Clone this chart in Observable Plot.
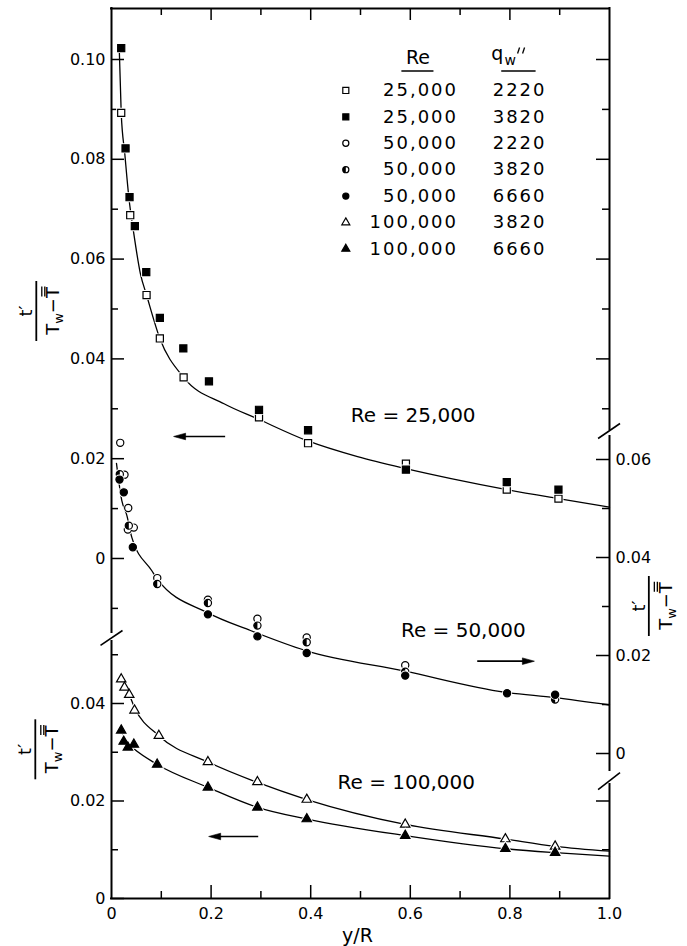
<!DOCTYPE html>
<html><head><meta charset="utf-8">
<script src="https://cdn.jsdelivr.net/npm/d3@7"></script>
<script src="https://cdn.jsdelivr.net/npm/@observablehq/plot@0.6"></script>
<style>
body{margin:0;background:#fff;}
#chart{position:relative;width:687px;height:946px;background:#fff;}
#chart svg{position:absolute;left:0;top:0;}
</style></head><body><div id="chart"></div>
<script>
// ---------------- data ----------------
// Re = 25,000  (left, upper scale)
const re25q2220X = [0.0195,0.0376,0.0704,0.0971,0.1448,0.2962,0.3947,0.5912,0.7937,0.8975];
const re25q2220Y = [0.0893,0.0688,0.0528,0.0441,0.0363,0.0283,0.0231,0.0190,0.0138,0.0120];
const re25q3820X = [0.0195,0.0282,0.0362,0.0469,0.0698,0.0971,0.1442,0.1957,0.2962,0.3947,0.5912,0.7937,0.8975];
const re25q3820Y = [0.1023,0.0822,0.0724,0.0666,0.0574,0.0482,0.0421,0.0355,0.0298,0.0257,0.0178,0.0153,0.0138];
const re25CurveX = [0.0155,0.0195,0.0267,0.0348,0.0448,0.058,0.0704,0.0971,0.1448,0.226,0.293,0.393,0.494,0.591,0.682,0.7937,0.8975,1.0];
const re25CurveY = [0.1024,0.0893,0.0811,0.0724,0.0651,0.0571,0.0528,0.0441,0.0363,0.0310,0.0280,0.0236,0.0204,0.0180,0.0160,0.0138,0.0120,0.0103];
// Re = 50,000  (right scale)
const re50q2220X = [0.0175,0.0261,0.0336,0.0328,0.0448,0.0919,0.1936,0.293,0.392,0.5898];
const re50q2220Y = [0.0634,0.0569,0.0501,0.0457,0.0461,0.0358,0.0314,0.0275,0.0237,0.0180];
const re50q3820X = [0.0167,0.0235,0.0348,0.0919,0.1936,0.293,0.392,0.5898,0.8908];
const re50q3820Y = [0.0570,0.0534,0.0465,0.0346,0.0307,0.0261,0.0227,0.0167,0.0110];
const re50q6660X = [0.0161,0.0247,0.0428,0.1936,0.293,0.392,0.5898,0.7943,0.8908];
const re50q6660Y = [0.0559,0.0533,0.0421,0.0284,0.0239,0.0205,0.0159,0.0123,0.0120];
const re50CurveX = [0.010,0.0207,0.0308,0.0408,0.081,0.0919,0.1936,0.279,0.39,0.589,0.79,0.89,1.0];
const re50CurveY = [0.0592,0.0516,0.0486,0.0441,0.0373,0.0356,0.0287,0.0251,0.0210,0.0168,0.0125,0.0114,0.0099];
// Re = 100,000 (left, lower scale)
const re100q3820X = [0.0195,0.0261,0.0356,0.0462,0.0951,0.1936,0.293,0.3921,0.5898,0.7909,0.8908];
const re100q3820Y = [0.0450,0.0433,0.0418,0.0386,0.0334,0.0280,0.0239,0.0203,0.0152,0.0122,0.0107];
const re100q6660X = [0.0195,0.0245,0.0329,0.0449,0.0917,0.1936,0.293,0.3921,0.5898,0.7909,0.8908];
const re100q6660Y = [0.0345,0.0322,0.0310,0.0316,0.0275,0.0228,0.0187,0.0163,0.0129,0.0102,0.0094];
const re100q3820CurveX = [0.0195,0.0356,0.0462,0.0951,0.1936,0.293,0.3921,0.5898,0.7909,0.8908,1.0];
const re100q3820CurveY = [0.0452,0.0418,0.0392,0.0334,0.0280,0.0238,0.0203,0.0152,0.0122,0.0107,0.0097];
const re100q6660CurveX = [0.0195,0.0329,0.0449,0.0917,0.1936,0.293,0.3921,0.5898,0.7909,0.8908,1.0];
const re100q6660CurveY = [0.0345,0.0318,0.0307,0.0275,0.0228,0.0187,0.0163,0.0129,0.0102,0.0094,0.0087];
// legend
const legendRe = ["25,000","25,000","50,000","50,000","50,000","100,000","100,000"];
const legendQ  = ["2220","3820","2220","3820","6660","3820","6660"];
// tick labels
const xTickLabels = [0,0.2,0.4,0.6,0.8,1.0];
const upperLeftLabels = [0,0.02,0.04,0.06,0.08,0.10];
const lowerLeftLabels = [0,0.02,0.04];
const rightLabels = [0,0.02,0.04,0.06];
const upperLeftTicks = [-0.01,0,0.01,0.02,0.03,0.04,0.05,0.06,0.07,0.08,0.09,0.10];
const upperRightTicks = [0.03,0.04,0.05,0.06,0.07,0.08,0.09,0.10];
const midRightTicks = [0,0.01,0.02,0.03,0.04,0.05,0.06];
const lowerLeftTicks = [0,0.01,0.02,0.03,0.04,0.05];
const lowerRightTicks = [0.01,0.02];
const xMinorMajorTicks = [0.1,0.2,0.3,0.4,0.5,0.6,0.7,0.8,0.9];

// ---------------- layout ----------------
const W = 687, H = 946;
const M = {top: 8, bottom: 48, left: 111, right: 78};
const FONT = '"DejaVu Sans", sans-serif';
const innerW = W - M.left - M.right, innerH = H - M.top - M.bottom;
const domA = [-0.06814, 0.11022];   // upper-left scale
const domB = [-0.02959, 0.15204];   // right scale
const domC = [0, 0.18256];          // lower-left scale
const xpp = 1 / innerW;
const ypp = d => (d[1] - d[0]) / innerH;

const pts = (xs, ys) => xs.map((x, i) => ({x, y: ys[i]}));
const halfLeft = {draw(ctx, size) {const r = Math.sqrt(size / Math.PI); ctx.moveTo(0, -r); ctx.arc(0, 0, r, -Math.PI / 2, Math.PI / 2, true); ctx.closePath();}};
const arrowHead = dir => ({draw(ctx) {ctx.moveTo(0, 0); ctx.lineTo(-12 * dir, -3.3); ctx.lineTo(-12 * dir, 3.3); ctx.closePath();}});
const styles = [
  {sym: "square", fill: "white", r: 4},
  {sym: "square", fill: "black", r: 4},
  {sym: "circle", fill: "white", r: 3.6},
  {sym: "circle", fill: "white", r: 3.6, half: true},
  {sym: "circle", fill: "black", r: 3.6},
  {sym: "triangle", fill: "white", r: 3.5},
  {sym: "triangle", fill: "black", r: 3.5}
];
function symbolMarks(data, st, r = st.r, halo = true) {
  const m = [];
  if (halo) m.push(Plot.dot(data, {x: "x", y: "y", symbol: st.sym, r, fill: "white", stroke: "white", strokeWidth: 3}));
  m.push(Plot.dot(data, {x: "x", y: "y", symbol: st.sym, r, fill: st.fill, stroke: "black", strokeWidth: 1.2}));
  if (st.half) m.push(Plot.dot(data, {x: "x", y: "y", symbol: halfLeft, r, fill: "black"}));
  return m;
}
const curve = (xs, ys) => Plot.line(pts(xs, ys), {x: "x", y: "y", curve: "monotone-x", stroke: "black", strokeWidth: 1.3});
const isMajor = (v, k) => Math.round(v * k) % 2 === 0;
const yTicks = (vals, side) => Plot.ruleY(vals, {y: d => d, x1: side === "left" ? 0 : 1,
  x2: d => side === "left" ? (isMajor(d, 100) ? 13 : 7) * xpp : 1 - (isMajor(d, 100) ? 13 : 7) * xpp, stroke: "black", strokeWidth: 1.5});
const fmtY = d => d === 0 ? "0" : d.toFixed(2);
const fmtX = d => d === 0 ? "0" : d.toFixed(1);
const frameStroke = {stroke: "black", strokeWidth: 2, strokeLinecap: "square"};
// arrow: shaft from tail x1 to head x2, filled head at x2
const arrow = (x1, x2, y) => {
  const dir = x2 > x1 ? 1 : -1;
  return [
    Plot.ruleY([y], {x1, x2: x2 - dir * 8 * xpp, stroke: "black", strokeWidth: 1.7}),
    Plot.dot([{x: x2, y}], {x: "x", y: "y", symbol: arrowHead(dir), r: 1, fill: "black", stroke: "black", strokeWidth: 0.6})
  ];
};
const label = (text, x, y) => Plot.text([text], {x: () => x, y: () => y, text: d => d, textAnchor: "start", lineAnchor: "middle", fontSize: 20, fill: "black"});

function base(domY, marks, noX) {
  return Plot.plot({
    width: W, height: H, marginTop: M.top, marginBottom: M.bottom, marginLeft: M.left, marginRight: M.right,
    x: noX ? {domain: [0, 1], axis: null} : {domain: [0, 1]},
    y: {domain: domY},
    style: {fontFamily: FONT, fontSize: "16px", background: "transparent", overflow: "visible", color: "black"},
    marks
  });
}

// ---------- layer A : Re = 25,000, frame top, legend ----------
const pA = ypp(domA);
const rowY0 = 0.09379, rowStep = 0.00529;
const legendRows = legendRe.map((re, i) => ({re, q: legendQ[i], y: rowY0 - i * rowStep, st: styles[i]}));
const legendMarks = [];
legendRows.forEach(row => {
  legendMarks.push(...symbolMarks([{x: 0.4705, y: row.y}], row.st, row.st.r * 0.85, false));
});
legendMarks.push(Plot.text(legendRows, {x: () => 0.6958, y: "y", text: "re", textAnchor: "end", lineAnchor: "middle", fontSize: 18, fill: "black"}));
legendMarks.push(Plot.text(legendRows, {x: () => 0.7655, y: "y", text: "q", textAnchor: "start", lineAnchor: "middle", fontSize: 18, fill: "black"}));
legendMarks.push(Plot.text(["Re"], {x: () => 0.6153, y: () => 0.1003, text: d => d, textAnchor: "middle", lineAnchor: "middle", fontSize: 19, fill: "black"}));
legendMarks.push(Plot.ruleY([0.0977], {x1: 0.5831, x2: 0.6475, stroke: "black", strokeWidth: 1.6}));
legendMarks.push(Plot.ruleY([0.0977], {x1: 0.7836, x2: 0.8526, stroke: "black", strokeWidth: 1.6}));

const layerA = base(domA, [
  Plot.ruleY([domA[1]], {x1: 0, x2: 1, ...frameStroke}),
  Plot.ruleX([0], {y1: -0.01483, y2: domA[1], ...frameStroke}),
  Plot.ruleX([1], {y1: 0.02585, y2: domA[1], ...frameStroke}),
  Plot.link([{a: -0.0221, b: -0.01743, c: 0.0221, d: -0.01443}], {x1: "a", y1: "b", x2: "c", y2: "d", stroke: "black", strokeWidth: 1.6}),
  Plot.link([{a: 0.9771, b: 0.02405, c: 1.0211, d: 0.02705}], {x1: "a", y1: "b", x2: "c", y2: "d", stroke: "black", strokeWidth: 1.6}),
  yTicks(upperLeftTicks, "left"),
  yTicks(upperRightTicks, "right"),
  Plot.ruleX(xMinorMajorTicks, {x: d => d, y1: domA[1], y2: d => domA[1] - (isMajor(d, 10) ? 12 : 7) * pA, stroke: "black", strokeWidth: 1.5}),
  Plot.axisY(upperLeftLabels, {anchor: "left", tickSize: 0, tickPadding: 6, tickFormat: fmtY, fontSize: 16, label: null}),
  curve(re25CurveX, re25CurveY),
  ...symbolMarks(pts(re25q2220X, re25q2220Y), styles[0]),
  ...symbolMarks(pts(re25q3820X, re25q3820Y), styles[1]),
  label("Re = 25,000", 0.4806, 0.02856),
  ...arrow(0.2292, 0.1247, 0.02445),
  ...legendMarks
], true);

// ---------- layer B : Re = 50,000 (right scale) ----------
const layerB = base(domB, [
  Plot.ruleX([1], {y1: -0.00347, y2: 0.06469, ...frameStroke}),
  Plot.link([{a: 0.9771, b: -0.00735, c: 1.0211, d: -0.00388}], {x1: "a", y1: "b", x2: "c", y2: "d", stroke: "black", strokeWidth: 1.6}),
  yTicks(midRightTicks, "right"),
  Plot.axisY(rightLabels, {anchor: "right", tickSize: 0, tickPadding: 6, tickFormat: fmtY, fontSize: 16, label: null}),
  curve(re50CurveX, re50CurveY),
  ...symbolMarks(pts(re50q2220X, re50q2220Y), styles[2]),
  ...symbolMarks(pts(re50q3820X, re50q3820Y), styles[3]),
  ...symbolMarks(pts(re50q6660X, re50q6660Y), styles[4]),
  label("Re = 50,000", 0.5811, 0.0251),
  ...arrow(0.7354, 0.8492, 0.01884)
], true);

// ---------- layer C : Re = 100,000 (lower-left scale), x axis ----------
const pC = ypp(domC);
const layerC = base(domC, [
  Plot.ruleY([0], {x1: 0, x2: 1, ...frameStroke}),
  Plot.ruleX([0], {y1: 0, y2: 0.05272, ...frameStroke}),
  Plot.ruleX([1], {y1: 0, y2: 0.02338, ...frameStroke}),
  yTicks(lowerLeftTicks, "left"),
  yTicks(lowerRightTicks, "right"),
  Plot.ruleX(xMinorMajorTicks, {x: d => d, y1: 0, y2: d => (isMajor(d, 10) ? 13 : 7) * pC, stroke: "black", strokeWidth: 1.5}),
  Plot.axisY(lowerLeftLabels, {anchor: "left", tickSize: 0, tickPadding: 6, tickFormat: fmtY, fontSize: 16, label: null}),
  Plot.axisX(xTickLabels, {anchor: "bottom", tickSize: 0, tickPadding: 9, tickFormat: fmtX, fontSize: 16, label: null}),
  Plot.text(["y/R"], {x: () => 0.494, y: () => -0.00759, text: d => d, textAnchor: "middle", lineAnchor: "middle", fontSize: 19, fill: "black"}),
  curve(re100q3820CurveX, re100q3820CurveY),
  curve(re100q6660CurveX, re100q6660CurveY),
  ...symbolMarks(pts(re100q3820X, re100q3820Y), styles[5]),
  ...symbolMarks(pts(re100q6660X, re100q6660Y), styles[6]),
  label("Re = 100,000", 0.4539, 0.02386),
  ...arrow(0.2956, 0.1951, 0.01272)
]);

const chart = document.getElementById("chart");
[layerC, layerB, layerA].forEach(s => chart.appendChild(s));

// legend letter spacing
const legendStrings = new Set([...legendRe, ...legendQ]);
d3.select(layerA).selectAll("text").filter(function() {return legendStrings.has(this.textContent);}).attr("letter-spacing", 2);

// q''_w header: "q" with subscript "w"; the double prime is drawn as two short strokes
{
  const sx = layerA.scale("x"), sy = layerA.scale("y");
  const x0 = sx.apply(0.7883), yb = sy.apply(0.1003) + 3;
  const g = d3.select(layerA).append("g");
  const t = g.append("text").attr("x", x0).attr("y", yb)
    .attr("font-family", FONT).attr("fill", "black").attr("font-size", 19);
  t.append("tspan").text("q");
  t.append("tspan").attr("font-size", 14).attr("dx", 1).attr("dy", 5).text("w");
  [[16, 14], [21, 19]].forEach(([a, b]) => g.append("line")
    .attr("x1", x0 + a).attr("y1", yb - 13).attr("x2", x0 + b).attr("y2", yb - 7)
    .attr("stroke", "black").attr("stroke-width", 1.3));
}

// rotated fraction labels  t' / (T_w - T with double bar)
function fracLabel(svg, xv, yv) {
  const sx = svg.scale("x"), sy = svg.scale("y");
  const g = d3.select(svg).append("g")
    .attr("transform", `translate(${sx.apply(xv)},${sy.apply(yv)}) rotate(-90)`)
    .attr("font-family", FONT).attr("fill", "black");
  g.append("text").attr("text-anchor", "middle").attr("y", -4).attr("font-size", 18).text("t′");
  g.append("line").attr("x1", -30).attr("x2", 30).attr("stroke", "black").attr("stroke-width", 1.8);
  const t = g.append("text").attr("text-anchor", "middle").attr("y", 23).attr("font-size", 18);
  t.append("tspan").text("T");
  t.append("tspan").attr("font-size", 13).attr("dy", 4).text("w");
  t.append("tspan").attr("dy", -4).text("−T");
  const bb = t.node().getBBox();
  const xr = bb.x + bb.width;
  [7.5, 4.5].forEach(dy => g.append("line").attr("x1", xr - 10.5).attr("x2", xr - 0.5)
    .attr("y1", 23 - 13 - dy + 3).attr("y2", 23 - 13 - dy + 3).attr("stroke", "black").attr("stroke-width", 1.3));
}
fracLabel(layerA, -0.15, 0.0495);
fracLabel(layerC, -0.152, 0.0305);
fracLabel(layerB, 1.08, 0.030);
</script></body></html>
